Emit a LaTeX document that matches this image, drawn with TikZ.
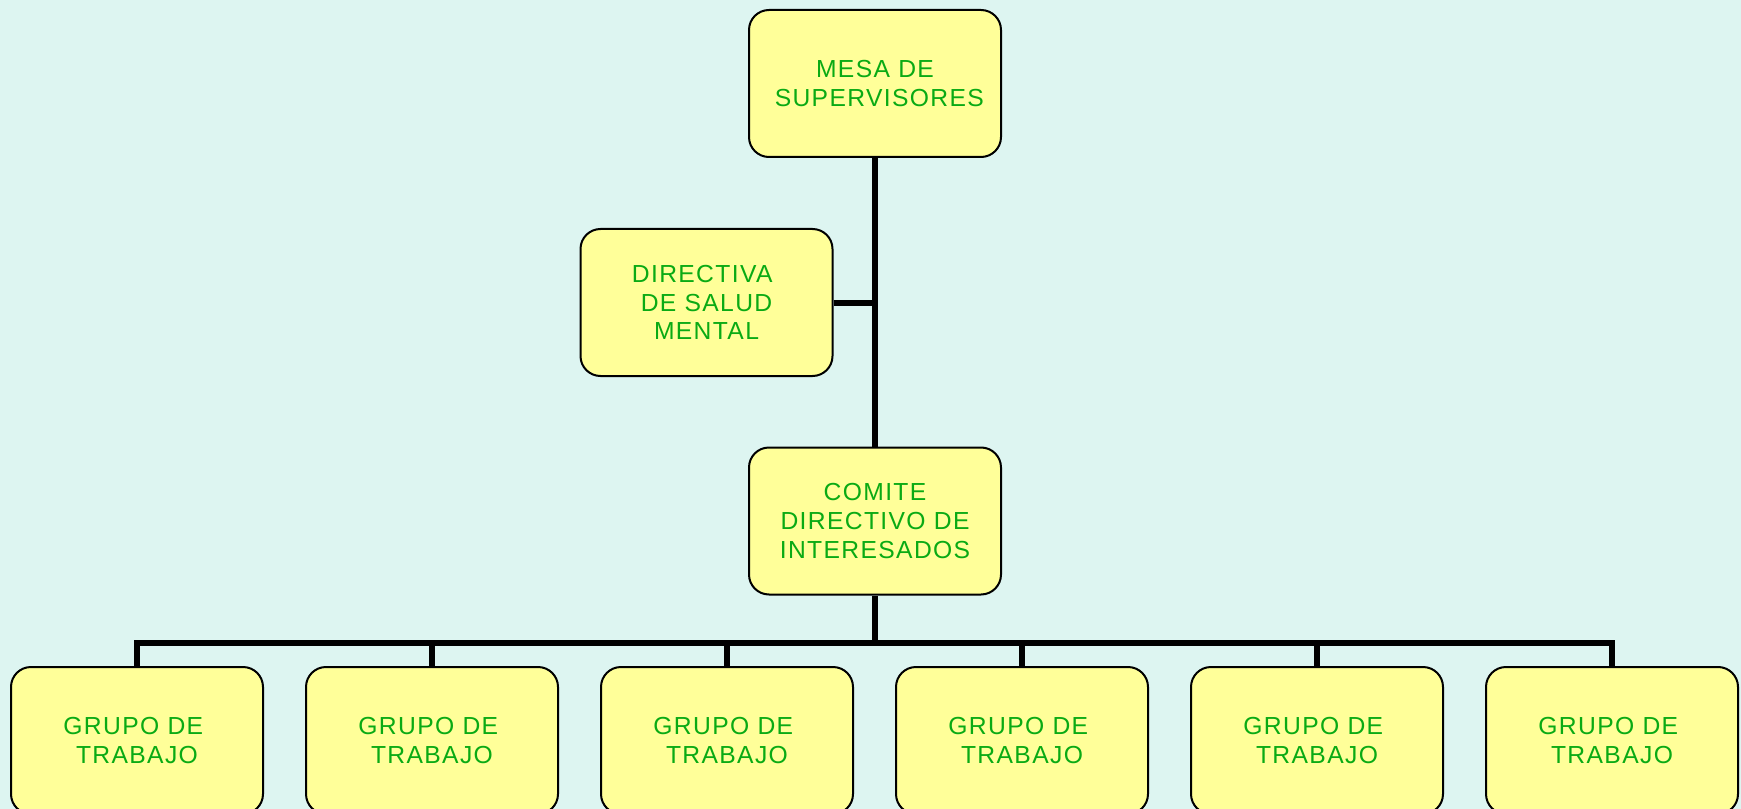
\documentclass[tikz,border=0pt]{standalone}
\usepackage{fontspec}
\setmainfont{Liberation Sans}
\newfontfamily\boxfont[LetterSpace=5.5]{Liberation Sans}
\definecolor{bgc}{RGB}{221,245,241}
\definecolor{boxfill}{RGB}{255,255,153}
\definecolor{txt}{RGB}{10,170,20}
\begin{document}
\begin{tikzpicture}[x=0.75pt,y=-0.75pt,
  orgbox/.style={draw=black,line width=1.5pt,fill=boxfill,rounded corners=15pt,
    minimum width=189pt,minimum height=110.25pt,align=center,inner sep=0pt,
    text=txt,font=\boxfont\fontsize{18.5}{21.5}\selectfont},
  link/.style={line width=4.5pt,draw=black}]
\fill[bgc] (0,0) rectangle (1741,809);
\clip (0,0) rectangle (1741,809);
\node[orgbox] (top) at (875,83.5) {MESA DE\\\hspace*{0.35em}SUPERVISORES};
\node[orgbox] (dir) at (706.5,302.5) {DIRECTIVA\hspace*{0.35em}\\DE SALUD\\MENTAL};
\node[orgbox] (com) at (875,521) {COMITE\\DIRECTIVO DE\\INTERESADOS};
\foreach \i/\x in {1/137,2/432,3/727,4/1022,5/1317,6/1612}{
  \node[orgbox] (g\i) at (\x,740.5) {GRUPO DE\hspace*{0.3em}\\TRABAJO};
}
\coordinate (bar) at (875,643);
\draw[link] (top.south) -- (com.north);
\draw[link] (dir.east) -- (dir.east -| top.south);
\draw[link] (com.south) -- (bar);
\foreach \i in {1,...,6}{
  \draw[link] (bar) -| (g\i.north);
}
\end{tikzpicture}
\end{document}
